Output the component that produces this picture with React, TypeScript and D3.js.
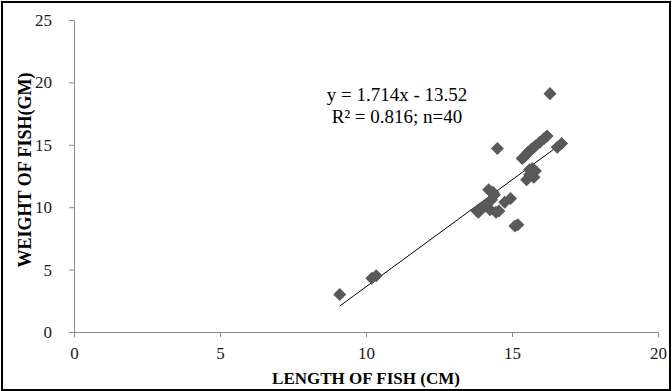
import { useRef, useEffect } from "react";
import * as d3 from "d3";

// fish length (cm) vs weight (gm)
const lengthCm = [
  9.1, 10.2, 10.35, 13.8, 13.95, 14.1, 14.2, 14.3, 14.25, 14.4,
  14.45, 14.55, 14.75, 14.95, 15.1, 15.2, 14.5, 15.35, 15.45, 15.55,
  15.65, 15.8, 15.95, 16.1, 16.2, 15.5, 15.6, 15.7, 15.8, 15.75,
  16.55, 16.7, 16.3, 14.0, 14.15, 15.4, 15.7, 14.35, 13.85, 15.6,
];
const weightGm = [
  3.0, 4.3, 4.5, 9.7, 9.9, 10.1, 11.4, 10.6, 9.8, 11.0,
  9.6, 9.7, 10.4, 10.7, 8.5, 8.6, 14.7, 13.9, 14.1, 14.4,
  14.6, 14.9, 15.2, 15.5, 15.7, 12.2, 12.6, 13.1, 12.9, 12.4,
  14.8, 15.1, 19.1, 10.0, 10.3, 14.0, 14.7, 11.2, 9.6, 13.0,
];

const xTicks = [0, 5, 10, 15, 20];
const yTicks = [0, 5, 10, 15, 20, 25];
const slope = 1.714;
const intercept = -13.52;
const eqLines = ["y = 1.714x - 13.52", "R² = 0.816; n=40"];

const W = 672;
const H = 391;
const FONT = "'Liberation Serif', 'Times New Roman', serif";

export default function App() {
  const svgRef = useRef<SVGSVGElement>(null);

  useEffect(() => {
    if (!svgRef.current) return;
    const svg = d3.select(svgRef.current);
    svg.selectAll("*").remove();

    const x = d3.scaleLinear().domain([0, 20]).range([74, 658]);
    const y = d3.scaleLinear().domain([0, 25]).range([332, 20]);

    // outer frame
    svg.append("rect")
      .attr("x", 2).attr("y", 2)
      .attr("width", W - 4).attr("height", H - 3)
      .attr("fill", "#fff")
      .attr("stroke", "#000")
      .attr("stroke-width", 2);

    // axes
    svg.append("g")
      .attr("transform", `translate(0,${y(0)})`)
      .call(d3.axisBottom(x).tickValues(xTicks).tickSize(5).tickPadding(10).tickFormat(d3.format("d")))
      .call(g => g.select(".domain").attr("stroke", "#8c8c8c"))
      .call(g => g.selectAll(".tick line").attr("stroke", "#8c8c8c"))
      .call(g => g.selectAll(".tick text")
        .attr("fill", "#1a1a1a").attr("font-size", "17px").attr("font-family", FONT));

    svg.append("g")
      .attr("transform", `translate(${x(0)},0)`)
      .call(d3.axisLeft(y).tickValues(yTicks).tickSize(5).tickPadding(17).tickFormat(d3.format("d")))
      .call(g => g.select(".domain").attr("stroke", "#8c8c8c"))
      .call(g => g.selectAll(".tick line").attr("stroke", "#8c8c8c"))
      .call(g => g.selectAll(".tick text")
        .attr("fill", "#1a1a1a").attr("font-size", "17px").attr("font-family", FONT));

    // trend line over the data's range
    const [x0, x1] = d3.extent(lengthCm) as [number, number];
    svg.append("line")
      .attr("x1", x(x0)).attr("y1", y(slope * x0 + intercept))
      .attr("x2", x(x1)).attr("y2", y(slope * x1 + intercept))
      .attr("stroke", "#000")
      .attr("stroke-width", 1);

    // diamonds
    const diamond = d3.symbol().type(d3.symbolSquare).size(85);
    svg.append("g")
      .selectAll("path")
      .data(lengthCm.map((l, i) => [l, weightGm[i]]))
      .join("path")
      .attr("d", diamond)
      .attr("transform", d => `translate(${x(d[0])},${y(d[1])}) rotate(45)`)
      .attr("fill", "#595959");

    // equation
    svg.append("g")
      .selectAll("text")
      .data(eqLines)
      .join("text")
      .attr("x", 397)
      .attr("y", (_, i) => 101 + i * 22)
      .attr("text-anchor", "middle")
      .attr("font-family", FONT)
      .attr("font-size", "19px")
      .attr("fill", "#000")
      .text(d => d);

    // axis titles
    svg.append("text")
      .attr("x", (x(0) + x(20)) / 2)
      .attr("y", 384)
      .attr("text-anchor", "middle")
      .attr("font-family", FONT)
      .attr("font-size", "17px")
      .attr("font-weight", "bold")
      .text("LENGTH OF FISH (CM)");

    svg.append("text")
      .attr("transform", "rotate(-90)")
      .attr("x", -170)
      .attr("y", 31)
      .attr("text-anchor", "middle")
      .attr("font-family", FONT)
      .attr("font-size", "18px")
      .attr("font-weight", "bold")
      .text("WEIGHT OF FISH(GM)");
  }, []);

  return (
    <svg
      ref={svgRef}
      width={W}
      height={H}
      viewBox={`0 0 ${W} ${H}`}
      style={{ position: "absolute", left: 0, top: 0, background: "#fff" }}
    />
  );
}
